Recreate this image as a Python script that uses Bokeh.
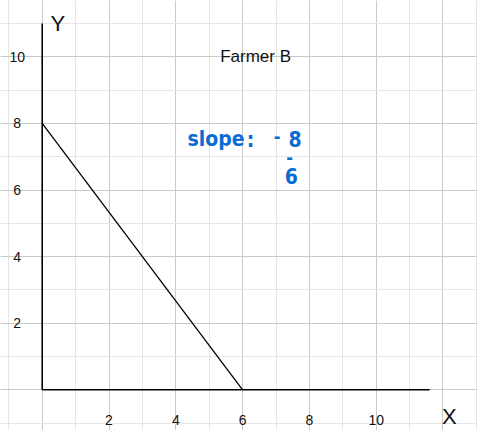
from bokeh.plotting import figure
from bokeh.models import Grid, SingleIntervalTicker
from bokeh.core.properties import value
from bokeh.embed import file_html
from bokeh.resources import INLINE

# data
line_x = [0, 6]
line_y = [8, 0]
x_tick_values = [2, 4, 6, 8, 10]
x_tick_labels = ["2", "4", "6", "8", "10"]
y_tick_values = [2, 4, 6, 8, 10]
y_tick_labels = ["2", "4", "6", "8", "10"]
axis_x_max = 11.6
axis_y_max = 11.0
title_text = "Farmer B"
x_label = "X"
y_label = "Y"

p = figure(width=477, height=430, x_range=(-1.249, 13.033), y_range=(-1.222, 11.691),
           x_axis_type=None, y_axis_type=None, output_backend="svg",
           toolbar_location=None, min_border=0)
p.outline_line_color = None
p.background_fill_color = "white"

for dim in (0, 1):
    g = Grid(dimension=dim, ticker=SingleIntervalTicker(interval=2, num_minor_ticks=2),
             grid_line_color="#c9c9c9", grid_line_width=1,
             minor_grid_line_color="#e6e6e6", minor_grid_line_width=1)
    p.add_layout(g)

# axis lines
p.line(x=[0, 0], y=[0, axis_y_max], line_color="black", line_width=1.6)
p.line(x=[0, axis_x_max], y=[0, 0], line_color="black", line_width=1.6)

# data line
p.line(x=line_x, y=line_y, line_color="black", line_width=1.3)

font = value("Liberation Sans")
# tick labels
p.text(x=x_tick_values, y=[-0.9] * len(x_tick_values), text=x_tick_labels,
       text_font=font, text_font_size="14px", text_align="center",
       text_baseline="middle", text_color="#111111")
p.text(x=[-0.75] * len(y_tick_values), y=y_tick_values, text=y_tick_labels,
       text_font=font, text_font_size="14px", text_align="center",
       text_baseline="middle", text_color="#111111")

# axis names
p.text(x=[0.47], y=[11.0], text=[y_label], text_font=font, text_font_size="22px",
       text_align="center", text_baseline="middle", text_color="#111111")
p.text(x=[12.19], y=[-0.79], text=[x_label], text_font=font, text_font_size="22px",
       text_align="center", text_baseline="middle", text_color="#111111")

# title
p.text(x=[6.39], y=[10.0], text=[title_text], text_font=font, text_font_size="17px",
       text_align="center", text_baseline="middle", text_color="#111111")

# handwritten slope note
blue = "#0a6cd2"
hfont = value("DejaVu Sans Condensed")
p.text(x=[4.35], y=[7.52], text=["slope"], text_font=hfont, text_font_size="21px",
       text_font_style="bold", text_align="left", text_baseline="middle", text_color=blue)
p.text(x=[6.24, 7.57, 7.46], y=[7.49, 7.54, 6.41], text=[":", "8", "6"], text_font=hfont,
       text_font_size="21px", text_font_style="bold", text_align="center",
       text_baseline="middle", text_color=blue)
p.text(x=[7.03, 7.41], y=[7.62, 6.97], text=["-", "-"], text_font=hfont,
       text_font_size="18px", text_font_style="bold", text_align="center",
       text_baseline="middle", text_color=blue)

open("out.html", "w").write(file_html(p, INLINE))
